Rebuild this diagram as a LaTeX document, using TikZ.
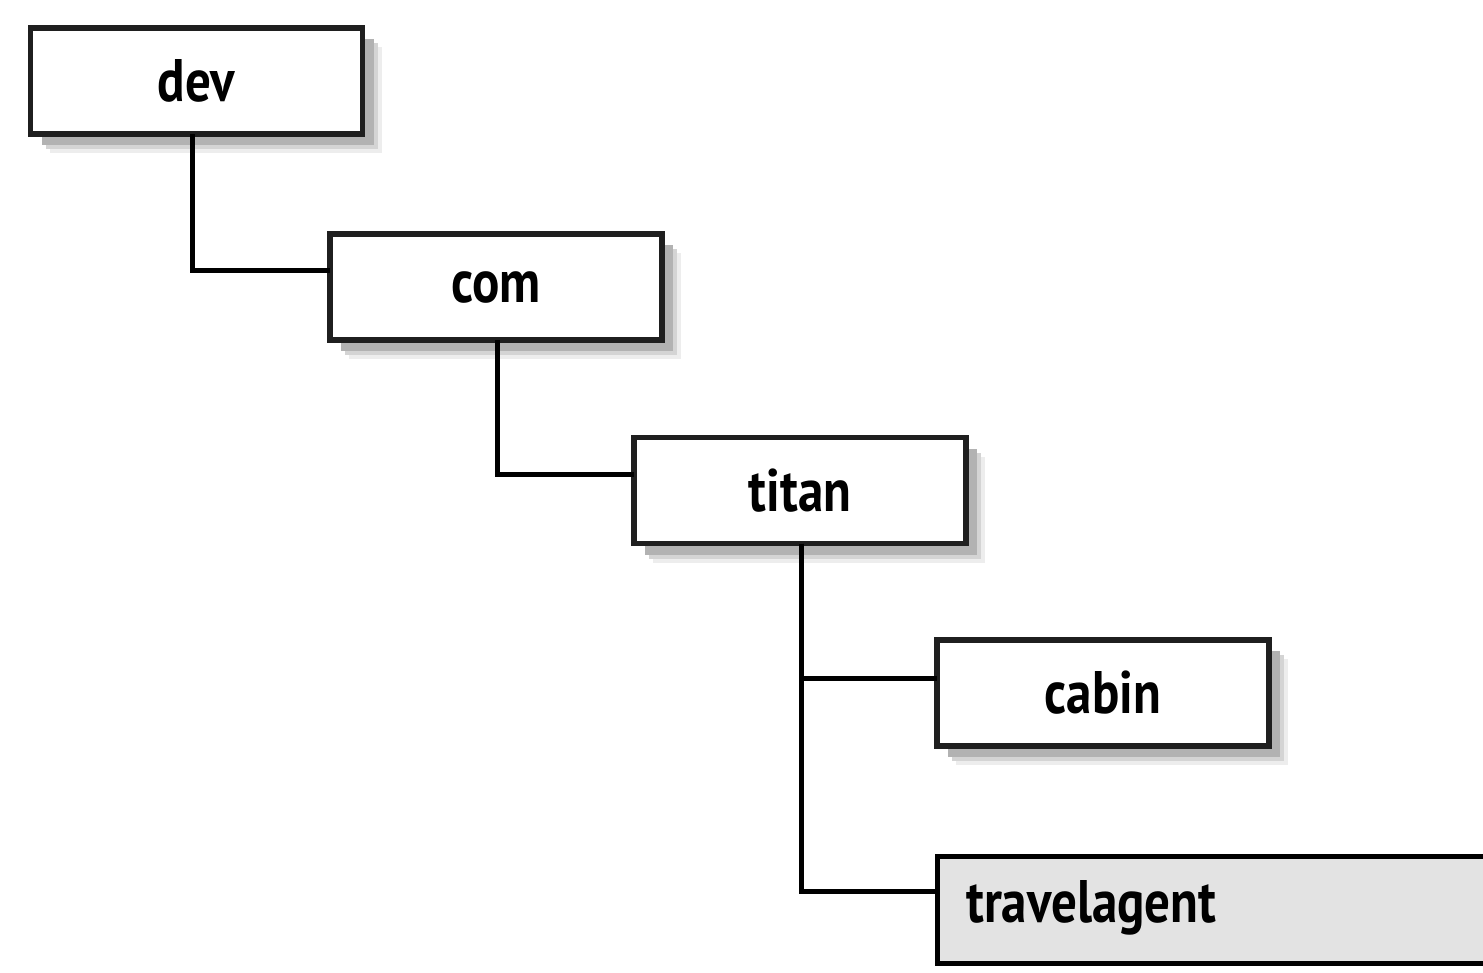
\documentclass[tikz,border=0pt]{standalone}
\usepackage{fontspec}
\setmainfont{PT Sans}
\usetikzlibrary{positioning}
\newcommand{\lbl}[1]{\scalebox{0.85}[1]{\bfseries #1}}
\tikzset{
  dirbox/.style={draw=black!88, line width=5.5pt, fill=white,
    minimum width=332pt, minimum height=106pt, inner sep=0pt, outer sep=0pt,
    font=\fontsize{60pt}{60pt}\selectfont,
    preaction={draw=none, fill=black!7, transform canvas={shift={(19pt,-19pt)}}},
    preaction={draw=none, fill=black!17, transform canvas={shift={(15pt,-15pt)}}},
    preaction={draw=none, fill=black!30, transform canvas={shift={(11pt,-11pt)}}}},
  selbox/.style={draw=black, line width=5.5pt, fill=black!11,
    minimum width=700pt, minimum height=107pt, inner sep=0pt, outer sep=0pt,
    font=\fontsize{60pt}{60pt}\selectfont},
  conn/.style={draw=black, line width=5pt}
}
\begin{document}
\begin{tikzpicture}[x=1pt, y=-1pt]
\useasboundingbox (0,0) rectangle (1483,972);
\node[dirbox] (dev)   at (196.5,81)  {\lbl{dev}};
\node[dirbox] (com)   at (496,287)   {\lbl{com}};
\node[dirbox] (titan) at (800,490.5) {\lbl{titan}};
\node[dirbox] (cabin) at (1103,693)  {\lbl{cabin}};
\node[selbox, anchor=west] (ta) at (937.5,910) {};
\node[anchor=west, inner sep=0pt, font=\fontsize{60pt}{60pt}\selectfont] (talbl) at (966,908) {\lbl{travelagent}};
\draw[conn] ([xshift=-4.5pt]dev.south) |- ([yshift=17pt]com.west);
\draw[conn] ([xshift=1pt]com.south) |- ([yshift=16.5pt]titan.west);
\draw[conn] ([xshift=1pt]titan.south) |- ([yshift=15pt]cabin.west);
\draw[conn] ([xshift=1pt]titan.south) |- ([yshift=19pt]ta.west);
\end{tikzpicture}
\end{document}
